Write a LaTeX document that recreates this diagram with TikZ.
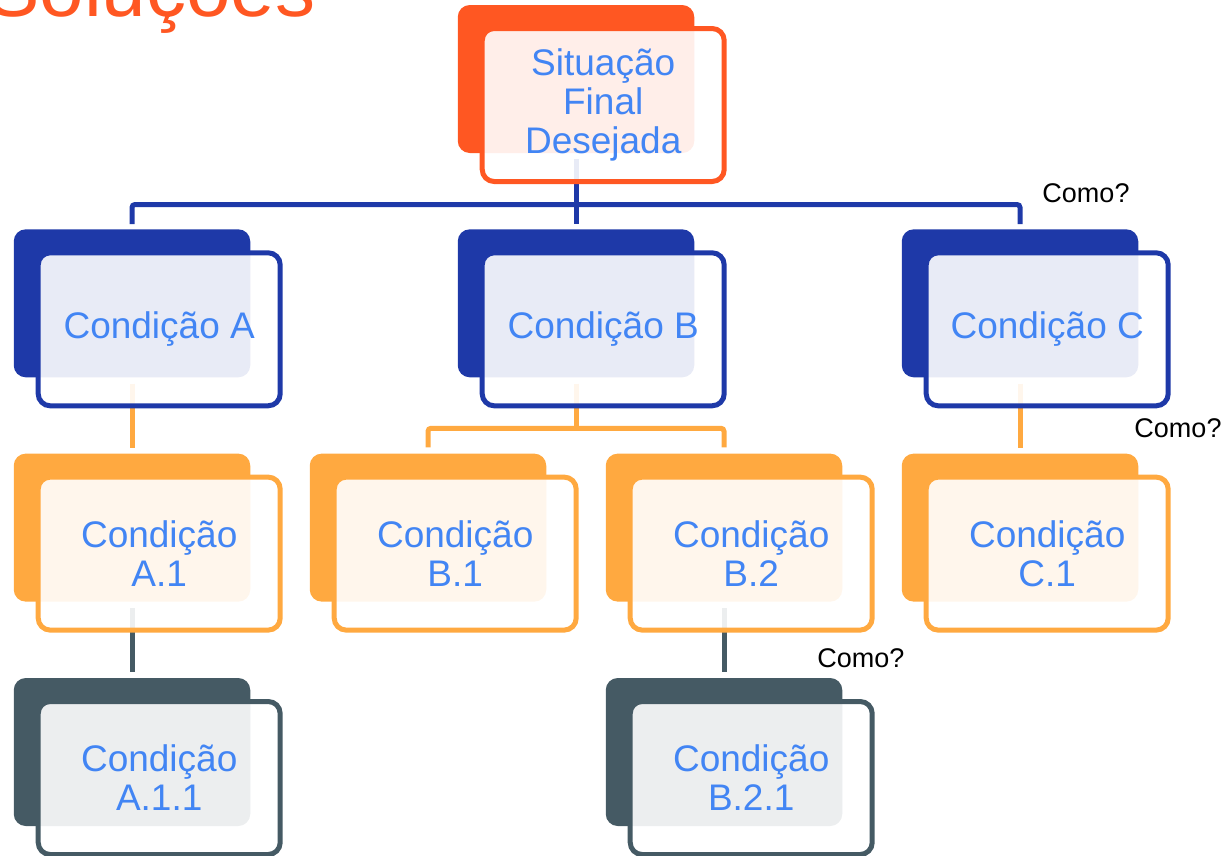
\documentclass[tikz,border=0pt]{standalone}
\usepackage{fontspec}
\setmainfont{Liberation Sans}
\usetikzlibrary{calc,backgrounds}

\definecolor{redor}{RGB}{255,87,34}
\definecolor{navy}{RGB}{30,57,168}
\definecolor{amber}{RGB}{255,169,64}
\definecolor{slate}{RGB}{69,90,100}
\definecolor{txtblue}{RGB}{66,133,244}

\tikzset{
  backcard/.style={draw=none, fill=#1, rounded corners=12pt,
    minimum width=236.5pt, minimum height=148pt, inner sep=0pt},
  frontcard/.style={draw=#1, line width=5pt, fill=white, fill opacity=0.9,
    text opacity=1, rounded corners=12pt, minimum width=242pt,
    minimum height=153pt, inner sep=0pt, align=center, text=txtblue,
    font=\fontsize{37}{39}\selectfont},
  link/.style={draw=#1, line width=5pt},
  howlabel/.style={font=\fontsize{27}{30}\selectfont, text=black, inner sep=0pt}
}

% a card: dark backing panel plus translucent framed panel with the label
\newcommand{\card}[5]{%
  \node[backcard=#4] (#1-back) at (#2,#3) {};
  \node[frontcard=#4] (#1) at ($(#1-back.center)+(27.2,26)$) {#5};
}

\begin{document}
\begin{tikzpicture}[x=1pt,y=-1pt]
\useasboundingbox (0,0) rectangle (1229,855);

% heading
\node[anchor=base west, inner sep=0pt, text=redor,
      font=\fontsize{80}{80}\selectfont] (title) at (-14,16) {Soluções};

% cards
\card{s}{576}{79}{redor}{Situação\\Final\\Desejada}
\card{a}{132}{303.3}{navy}{Condição A}
\card{b}{576}{303.3}{navy}{Condição B}
\card{c}{1020}{303.3}{navy}{Condição C}
\card{a1}{132}{527.6}{amber}{Condição\\A.1}
\card{b1}{428}{527.6}{amber}{Condição\\B.1}
\card{b2}{724}{527.6}{amber}{Condição\\B.2}
\card{c1}{1020}{527.6}{amber}{Condição\\C.1}
\card{a11}{132}{752}{slate}{Condição\\A.1.1}
\card{b21}{724}{752}{slate}{Condição\\B.2.1}

% question labels
\node[howlabel] (q1) at (1086,193) {Como?};
\node[howlabel] (q2) at (1178,428) {Como?};
\node[howlabel] (q3) at (861,658) {Como?};

% connectors, kept beneath the cards
\begin{pgfonlayer}{background}
  \coordinate (topbus) at (576,204.5);
  \coordinate (bbus) at (576,428.3);
  \draw[link=navy] ($(s-back.south)+(0,6)$) -- ($(b-back.north)-(0,5)$);
  \draw[link=navy, rounded corners=3pt]
    ($(a-back.north)-(0,5)$) |- (topbus) -| ($(c-back.north)-(0,5)$);

  \draw[link=amber] ($(a-back.south)+(0,6)$) -- ($(a1-back.north)-(0,5)$);
  \draw[link=amber] ($(b-back.south)+(0,6)$) -- (bbus);
  \draw[link=amber, rounded corners=3pt]
    ($(b1-back.north)-(0,6)$) |- (bbus) -| ($(b2-back.north)-(0,6)$);
  \draw[link=amber] ($(c-back.south)+(0,6)$) -- ($(c1-back.north)-(0,5)$);

  \draw[link=slate] ($(a1-back.south)+(0,6)$) -- ($(a11-back.north)-(0,6)$);
  \draw[link=slate] ($(b2-back.south)+(0,6)$) -- ($(b21-back.north)-(0,6)$);
\end{pgfonlayer}
\end{tikzpicture}
\end{document}
